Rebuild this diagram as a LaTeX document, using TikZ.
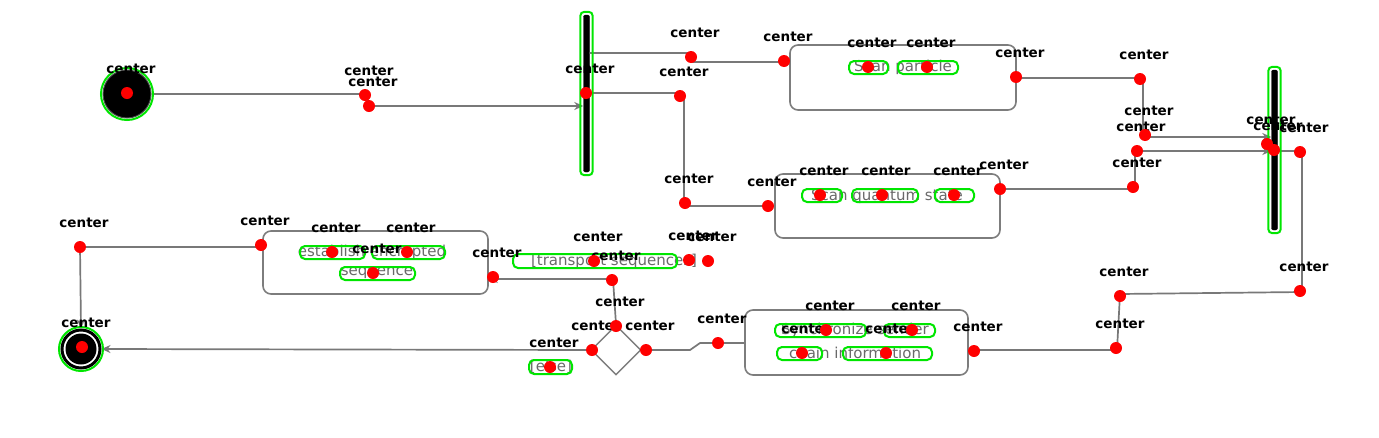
\documentclass[tikz,border=0pt]{standalone}
\usepackage{fontspec}
\usetikzlibrary{arrows.meta,shapes.geometric,calc}
\newfontfamily\dv{DejaVu Sans}
\newfontfamily\dvb{DejaVu Sans Bold}
\definecolor{linegray}{RGB}{120,120,120}
\definecolor{boxgray}{RGB}{125,125,125}
\definecolor{txtgray}{RGB}{105,105,105}
\definecolor{ovgreen}{RGB}{0,230,0}
\definecolor{ovred}{RGB}{255,0,0}
\tikzset{
  act/.style={draw=boxgray, line width=1.6pt, rounded corners=8pt, inner sep=0pt},
  txt/.style={font=\dv\fontsize{15}{17}\selectfont, text=txtgray, inner sep=0pt},
  flow/.style={draw=linegray, line width=1.7pt, -{Stealth[length=9pt,width=8pt]}},
  forkbar/.style={fill=black, draw=black, minimum width=6pt, inner sep=0pt, rounded corners=2pt},
  gline/.style={draw=ovgreen, line width=2pt, rounded corners=5pt},
  ctrlbl/.style={font=\dvb\fontsize{13.5}{14}\selectfont, text=black, inner sep=0pt},
  rdot/.style={circle, fill=ovred, inner sep=0pt, minimum size=12pt}
}
\newcommand{\cmark}[3]{\node[ctrlbl] (#1l) at (#2+4,#3-24) {center};}
\newcommand{\rdotmark}[3]{\node[rdot] (#1d) at (#2,#3) {};}
\begin{document}
\begin{tikzpicture}[x=1pt,y=-1pt]
\useasboundingbox[fill=white] (0,0) rectangle (1379,437);
% ---------- diagram ----------
\node[circle, fill=black, draw=black!70, line width=1pt, minimum size=48pt, inner sep=0pt] (init) at (127,94) {};
\node[circle, draw=black, line width=3pt, minimum size=38pt, inner sep=0pt] (fin) at (81,349) {};
\node[circle, fill=black, minimum size=31pt, inner sep=0pt] (finin) at (81,349) {};
\node[forkbar, minimum height=157pt] (f1) at (586.5,93.5) {};
\node[forkbar, minimum height=160pt] (f2) at (1274.5,150) {};
\node[act, minimum width=226pt, minimum height=65pt] (b1) at (903,77.5) {};
\node[act, minimum width=225pt, minimum height=64pt] (b2) at (887.5,206) {};
\node[act, minimum width=223pt, minimum height=65pt] (b3) at (856.5,342.5) {};
\node[act, minimum width=225pt, minimum height=63pt] (b4) at (375.5,262.5) {};
\node[diamond, draw=boxgray, line width=1.4pt, minimum width=50pt, minimum height=50pt, inner sep=0pt] (dec) at (616,350) {};
\node[txt] (t1) at (903,67) {Scan particle};
\node[txt] (t2) at (887,196) {Scan quantum state};
\node[txt] (t3a) at (372,252) {establish encrypted};
\node[txt] (t3b) at (377,273) {sequence};
\node[txt] (t4a) at (855,330) {Synchronize sender};
\node[txt] (t4b) at (855,353) {chain information};
\node[txt] (g1) at (614,261) {[transport sequences]};
\node[txt] (g2) at (551,367) {[else]};
% bend points
\coordinate (c1a) at (365,94); \coordinate (c1b) at (369,106);
\coordinate (c2a) at (690,53); \coordinate (c2b) at (692,62);
\coordinate (c3a) at (684,93); \coordinate (c3b) at (684,206);
\coordinate (c4a) at (1143,78); \coordinate (c4b) at (1143,137);
\coordinate (c5a) at (1135,189); \coordinate (c5b) at (1135,151);
\coordinate (c6a) at (1302,151); \coordinate (c6b) at (1302,292);
\coordinate (c6c) at (1120,294); \coordinate (c6d) at (1117,350);
\coordinate (c7a) at (700,343); \coordinate (c7b) at (690,350);
\coordinate (c8a) at (613,279);
\coordinate (c9a) at (80,247);
\draw[flow] (init.east) -- (c1a) -- (c1b) -- (c1b -| f1.west);
\draw[flow] (f1.east |- c2a) -- (c2a) -- (c2b) -- (c2b -| b1.west);
\draw[flow] (f1.east |- c3a) -- (c3a) -- (c3b) -- (c3b -| b2.west);
\draw[flow] (b1.east |- c4a) -- (c4a) -- (c4b) -- (c4b -| f2.west);
\draw[flow] (b2.east |- c5a) -- (c5a) -- (c5b) -- (c5b -| f2.west);
\draw[flow] (f2.east |- c6a) -- (c6a) -- (c6b) -- (c6c) -- (c6d) -- (c6d -| b3.east);
\draw[flow] (b3.west |- c7a) -- (c7a) -- (c7b) -- (dec.east);
\draw[flow] (dec.north) -- (c8a) -- (c8a -| b4.east);
\draw[flow] (b4.west |- c9a) -- (c9a) -- (fin.north);
\draw[flow] (dec.west) -- (fin.east);
% ---------- overlay: green contours ----------
\draw[gline] (init) circle[radius=26];
\draw[gline] (fin) circle[radius=22];
\draw[gline, rounded corners=4pt] ($(f1.north west)+(-3,-3)$) rectangle ($(f1.south east)+(3,3)$);
\draw[gline, rounded corners=4pt] ($(f2.north west)+(-3,-3)$) rectangle ($(f2.south east)+(3,3)$);
\draw[gline] (849,61) rectangle (888,74);
\draw[gline] (898,61) rectangle (958,74);
\draw[gline] (802,189) rectangle (842,202);
\draw[gline] (852,189) rectangle (918,202);
\draw[gline] (935,189) rectangle (974,202);
\draw[gline] (300,246) rectangle (365,259);
\draw[gline] (372,246) rectangle (445,259);
\draw[gline] (340,267) rectangle (415,280);
\draw[gline] (775,324) rectangle (866,337);
\draw[gline] (884,324) rectangle (935,337);
\draw[gline] (777,347) rectangle (822,360);
\draw[gline] (843,347) rectangle (932,360);
\draw[gline] (513,254) rectangle (677,268);
\draw[gline] (529,360) rectangle (572,374);
% ---------- overlay: center labels ----------
\foreach \n/\x/\y in {a/127/93, b/365/95, c/369/106, d/586/93, e/691/57, f/680/96, g/784/61,
  h/868/67, i/927/67, j/1016/77, k/1140/79, l/1145/135, m/1137/151, n/1267/144, o/1274/150,
  p/1300/152, q/1133/187, r/1000/189, s/685/203, t/768/206, u/820/195, v/882/195, w/954/195,
  x/80/247, y/261/245, z/332/252, aa/407/252, ab/373/273, ac/493/277, ad/594/261, ae/612/280,
  af/689/260, ag/708/261, ah/592/350, ai/646/350, aj/616/326, ak/550/367, al/718/343,
  am/826/330, an/912/330, ao/802/353, ap/886/353, aq/974/351, ar/1120/296, as/1116/348,
  at/1300/291, au/82/347}
  {\cmark{\n}{\x}{\y}}
\foreach \n/\x/\y in {a/127/93, b/365/95, c/369/106, d/586/93, e/691/57, f/680/96, g/784/61,
  h/868/67, i/927/67, j/1016/77, k/1140/79, l/1145/135, m/1137/151, n/1267/144, o/1274/150,
  p/1300/152, q/1133/187, r/1000/189, s/685/203, t/768/206, u/820/195, v/882/195, w/954/195,
  x/80/247, y/261/245, z/332/252, aa/407/252, ab/373/273, ac/493/277, ad/594/261, ae/612/280,
  af/689/260, ag/708/261, ah/592/350, ai/646/350, aj/616/326, ak/550/367, al/718/343,
  am/826/330, an/912/330, ao/802/353, ap/886/353, aq/974/351, ar/1120/296, as/1116/348,
  at/1300/291, au/82/347}
  {\rdotmark{\n}{\x}{\y}}
\end{tikzpicture}
\end{document}
